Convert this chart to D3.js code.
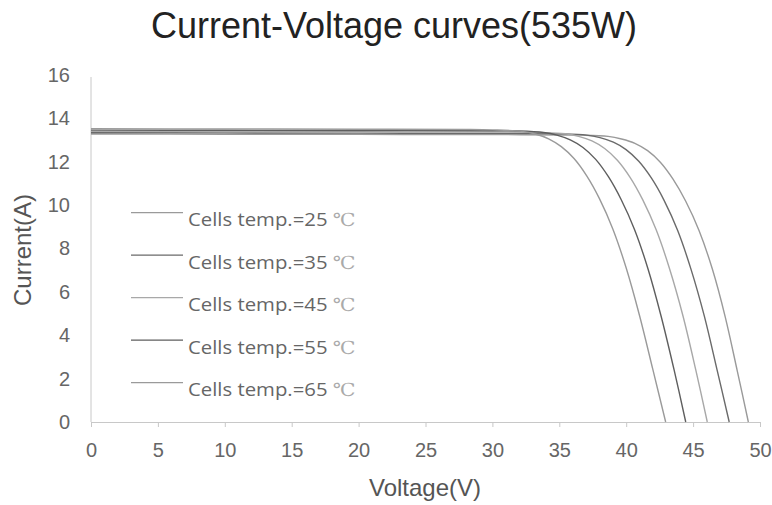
<!DOCTYPE html>
<html><head><meta charset="utf-8">
<script src="https://cdn.jsdelivr.net/npm/d3@7"></script>
<style>body{margin:0;background:#fff}svg{display:block}</style>
</head><body>
<svg id="c" width="772" height="505"></svg>
<script>
const temps = ["25", "35", "45", "55", "65"];
// voltage (V) and current (A) points
const volt25 = [0, 10, 20, 30, 36.5, 38.65, 39.65, 40.65, 41.6, 42.55, 43.5, 44.45, 45.45, 46.45, 47.4, 48.3, 49.13];
const curr25 = [13.28, 13.27, 13.26, 13.25, 13.23, 13.17, 13.05, 12.85, 12.51, 11.98, 11.2, 10.18, 8.82, 7.03, 4.85, 2.36, 0];
const volt35 = [0, 10, 20, 30, 35, 37.04, 38.04, 39.04, 39.99, 40.94, 41.89, 42.84, 43.84, 44.84, 45.84, 46.8, 47.7];
const curr35 = [13.34, 13.33, 13.32, 13.31, 13.29, 13.23, 13.11, 12.9, 12.56, 12.02, 11.24, 10.21, 8.84, 7.05, 4.88, 2.38, 0];
const volt45 = [0, 10, 20, 30, 33.5, 35.44, 36.44, 37.44, 38.39, 39.34, 40.29, 41.24, 42.24, 43.24, 44.24, 45.2, 46.06];
const curr45 = [13.4, 13.39, 13.38, 13.37, 13.35, 13.29, 13.17, 12.96, 12.61, 12.07, 11.28, 10.24, 8.86, 7.07, 4.9, 2.4, 0];
const volt55 = [0, 10, 20, 30, 32, 33.82, 34.82, 35.82, 36.77, 37.72, 38.67, 39.62, 40.62, 41.62, 42.6, 43.58, 44.45];
const curr55 = [13.46, 13.45, 13.44, 13.43, 13.42, 13.35, 13.23, 13.01, 12.66, 12.11, 11.31, 10.26, 8.88, 7.08, 4.9, 2.4, 0];
const volt65 = [0, 10, 20, 28, 30, 32.2, 33.2, 34.2, 35.15, 36.1, 37.05, 38.0, 39.0, 40.0, 41.0, 42.0, 42.95];
const curr65 = [13.52, 13.51, 13.5, 13.49, 13.47, 13.4, 13.28, 13.06, 12.7, 12.15, 11.35, 10.3, 8.9, 7.1, 4.9, 2.4, 0];
const xTicks = [0,5,10,15,20,25,30,35,40,45,50];
const yTicks = [0,2,4,6,8,10,12,14,16];
const lineColors = ["#9a9a9a", "#6a6a6a", "#a8a8a8", "#5e5e5e", "#9a9a9a"];

const svg = d3.select("#c");
const x = d3.scaleLinear().domain([0,50]).range([91,760]);
const y = d3.scaleLinear().domain([0,16]).range([422,75]);
const sans = "Liberation Sans, Arial, sans-serif";

// title
svg.append("text").attr("x",394).attr("y",38).attr("text-anchor","middle")
  .attr("font-family",sans).attr("font-size",36)
  .attr("fill","#222").text("Current-Voltage curves(535W)");

// axes
const xAxis = d3.axisBottom(x).tickValues(xTicks).tickSize(5).tickPadding(16).tickSizeOuter(0);
const gx = svg.append("g").attr("transform","translate(0,422)").call(xAxis);
gx.select(".domain").attr("stroke","#c8c8c8");
gx.selectAll(".tick line").attr("stroke","#c8c8c8");
gx.selectAll(".tick text").attr("font-family",sans).attr("font-size",20).attr("fill","#666");

const yAxis = d3.axisLeft(y).tickValues(yTicks).tickSize(0).tickPadding(21).tickSizeOuter(0);
const gy = svg.append("g").attr("transform","translate(91,0)").call(yAxis);
gy.select(".domain").attr("stroke","#c8c8c8").attr("d","M0,77V422");
gy.selectAll(".tick text").attr("font-family",sans).attr("font-size",20).attr("fill","#666");

// axis titles
svg.append("text").attr("x",425).attr("y",496).attr("text-anchor","middle")
  .attr("font-family",sans).attr("font-size",24).attr("fill","#555").text("Voltage(V)");
svg.append("text").attr("transform","translate(31,250) rotate(-90)").attr("text-anchor","middle")
  .attr("font-family",sans).attr("font-size",24).attr("fill","#555").text("Current(A)");

// curves
const volts = [volt25, volt35, volt45, volt55, volt65];
const currs = [curr25, curr35, curr45, curr55, curr65];
const series = temps.map((t,i) => ({
  t, pts: volts[i].map((v,j) => [v, currs[i][j]]), color: lineColors[i]
}));
const line = d3.line().x(d=>x(d[0])).y(d=>y(d[1])).curve(d3.curveCatmullRom.alpha(0.5));
svg.append("g").selectAll("path").data(series).join("path")
  .attr("d", d=>line(d.pts)).attr("fill","none")
  .attr("stroke", d=>d.color).attr("stroke-width",1.4);

// legend
const lg = svg.append("g").selectAll("g").data(series).join("g")
  .attr("transform",(d,i)=>`translate(131,${212.7+i*42.5})`);
lg.append("line").attr("x1",0).attr("x2",52).attr("y1",0).attr("y2",0)
  .attr("stroke",d=>d.color).attr("stroke-width",1.3);
lg.append("text").attr("transform","translate(57,13.5) scale(1.13,1)")
  .attr("font-family","Open Sans, sans-serif").attr("font-size",18).attr("fill","#666")
  .text(d=>`Cells temp.=${d.t} `).append("tspan").attr("font-family","DejaVu Serif, serif").attr("fill","#aaa").text("℃");
</script>
</body></html>
